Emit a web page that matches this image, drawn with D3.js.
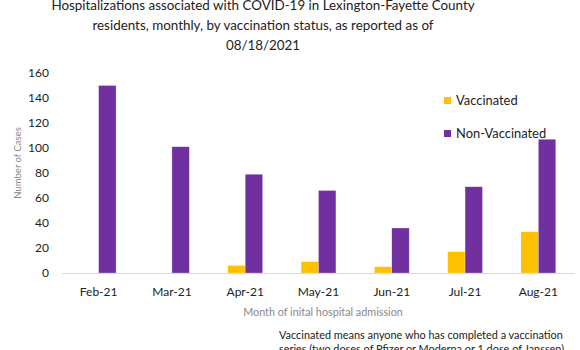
<!DOCTYPE html>
<html>
<head>
<meta charset="utf-8">
<script src="https://cdn.jsdelivr.net/npm/d3@7"></script>
<style>
  body { margin: 0; background: #fff; }
  text { font-family: Lato, "Open Sans", sans-serif; }
</style>
</head>
<body>
<div id="chart"></div>
<script>
// data
const months = ["Feb-21", "Mar-21", "Apr-21", "May-21", "Jun-21", "Jul-21", "Aug-21"];
const vaccinated = [0, 0, 6, 9, 5, 17, 33];
const nonVaccinated = [150, 101, 79, 66, 36, 69, 107];
const seriesNames = ["Vaccinated", "Non-Vaccinated"];
const yTicks = [0, 20, 40, 60, 80, 100, 120, 140, 160];
const titleLines = [
    "Hospitalizations associated with COVID-19 in Lexington-Fayette County",
    "residents, monthly, by vaccination status, as reported as of",
    "08/18/2021"
];
const noteLines = [
    "Vaccinated means anyone who has completed a vaccination",
    "series (two doses of Pfizer or Moderna or 1 dose of Janssen)"
];

const W = 580, H = 350;
const colors = ["#FFC000", "#7030A0"];

const svg = d3.select("#chart").append("svg")
    .attr("width", W)
    .attr("height", H);

// scales
const x = d3.scaleBand()
    .domain(months)
    .range([62, 575])
    .paddingInner(0.525)
    .paddingOuter(0.2625);

const y = d3.scaleLinear()
    .domain([0, 160])
    .range([273, 73]);

// title
svg.append("g").selectAll("text")
    .data(titleLines)
    .join("text")
    .attr("x", 263)
    .attr("y", (d, i) => 10 + i * 20)
    .attr("text-anchor", "middle")
    .style("font-size", "13.4px")
    .style("fill", "#222")
    .text(d => d);

// y axis labels
svg.append("g").selectAll("text")
    .data(yTicks)
    .join("text")
    .attr("x", 49)
    .attr("y", d => y(d) + 4)
    .attr("text-anchor", "end")
    .style("font-size", "12px")
    .style("fill", "#222")
    .text(d => d);

svg.append("text")
    .attr("transform", "rotate(-90)")
    .attr("x", -163)
    .attr("y", 21)
    .attr("text-anchor", "middle")
    .style("font-size", "9.5px")
    .style("fill", "#888")
    .text("Number of Cases");

// bars
const barData = [];
months.forEach((m, i) => {
    barData.push({ month: m, s: 0, value: vaccinated[i] });
    barData.push({ month: m, s: 1, value: nonVaccinated[i] });
});

const bw = x.bandwidth() / 2;
svg.append("g").selectAll("rect")
    .data(barData.filter(d => d.value > 0))
    .join("rect")
    .attr("x", d => x(d.month) + d.s * bw)
    .attr("y", d => y(d.value))
    .attr("width", bw)
    .attr("height", d => y(0) - y(d.value))
    .attr("fill", d => colors[d.s])
    .attr("stroke", "#fff")
    .attr("stroke-opacity", 0.5)
    .attr("stroke-width", 0.5);

// baseline
svg.append("line")
    .attr("x1", 62)
    .attr("x2", 575)
    .attr("y1", y(0) + 0.5)
    .attr("y2", y(0) + 0.5)
    .attr("stroke", "#d9d9d9")
    .attr("stroke-width", 1);

// x axis labels
svg.append("g").selectAll("text")
    .data(months)
    .join("text")
    .attr("x", d => x(d) + x.bandwidth() / 2)
    .attr("y", 296)
    .attr("text-anchor", "middle")
    .style("font-size", "12px")
    .style("fill", "#222")
    .text(d => d);

svg.append("text")
    .attr("x", 323)
    .attr("y", 316)
    .attr("text-anchor", "middle")
    .style("font-size", "10.8px")
    .style("fill", "#888")
    .text("Month of inital hospital admission");

// legend
const legend = svg.append("g").attr("transform", "translate(444, 100)");
const li = legend.selectAll("g")
    .data(seriesNames)
    .join("g")
    .attr("transform", (d, i) => `translate(0, ${i * 33})`);
li.append("rect")
    .attr("x", 0)
    .attr("y", -3)
    .attr("width", 7)
    .attr("height", 7)
    .attr("fill", (d, i) => colors[i]);
li.append("text")
    .attr("x", 12)
    .attr("y", 4.5)
    .style("font-size", "12.9px")
    .style("fill", "#222")
    .text(d => d);

// footnote
svg.append("g").selectAll("text")
    .data(noteLines)
    .join("text")
    .attr("x", 279)
    .attr("y", (d, i) => 339 + i * 14)
    .style("font-size", "10.9px")
    .style("fill", "#222")
    .text(d => d);
</script>
</body>
</html>
